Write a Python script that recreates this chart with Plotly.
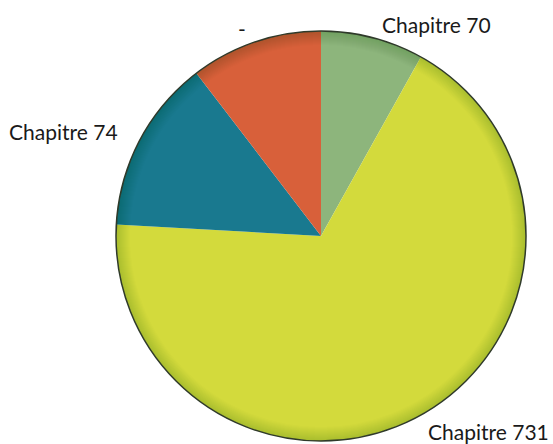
import plotly.graph_objects as go

labels = ["Chapitre 70", "Chapitre 731", "Chapitre 74", "-"]
values = [8.1, 67.8, 13.7, 10.4]
colors = ["#8db57c", "#d3da3c", "#19798f", "#d8603a"]

W, H = 553, 444
cx, cy, R = 321, 236, 205
dom_x = [(cx - R) / W, (cx + R) / W]
dom_y = [1 - (cy + R) / H, 1 - (cy - R) / H]

fig = go.Figure(go.Pie(
    labels=labels, values=values, sort=False, direction="clockwise", rotation=0,
    marker=dict(colors=colors, line=dict(width=0)),
    textinfo="none", hoverinfo="label+percent", showlegend=False,
    domain=dict(x=dom_x, y=dom_y),
))

def circ(r, lw, color):
    return dict(type="circle", xref="paper", yref="paper",
                x0=(cx - r) / W, x1=(cx + r) / W,
                y0=1 - (cy + r) / H, y1=1 - (cy - r) / H,
                line=dict(color=color, width=lw), fillcolor="rgba(0,0,0,0)")

shapes = []
for d in [1, 2, 3, 4, 5, 6, 7, 8, 9, 10, 11, 12, 13, 14]:
    shapes.append(circ(R - d / 2, d, "rgba(40,50,20,0.012)"))
shapes.append(circ(R, 1.5, "#2f3a2a"))

ann = [
    ("Chapitre 70", 436, 25, "center"),
    ("-", 242, 28, "center"),
    ("Chapitre 74", 63, 131, "center"),
    ("Chapitre 731", 551, 431, "right"),
]
annotations = []
for lab, px, py, xa in ann:
    annotations.append(dict(text=lab, x=px / W, y=1 - py / H, xref="paper", yref="paper",
                            showarrow=False, xanchor=xa, yanchor="middle",
                            font=dict(family="Lato", size=21, color="#1a1a1a")))

fig.update_layout(width=W, height=H, margin=dict(l=0, r=0, t=0, b=0),
                  paper_bgcolor="white", plot_bgcolor="white",
                  shapes=shapes, annotations=annotations)
fig.write_html("out.html", config={"displayModeBar": False},
               post_script="document.body.style.margin='0';")
